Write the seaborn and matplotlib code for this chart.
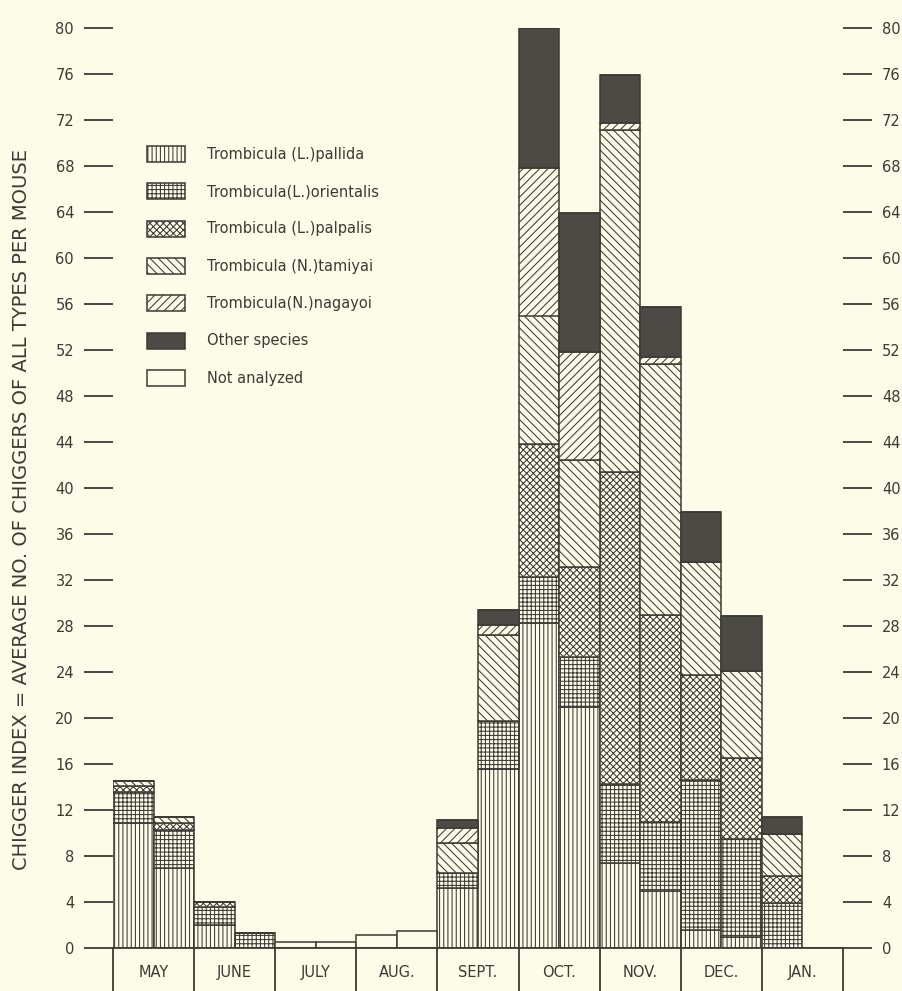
import numpy as np
import pandas as pd
import matplotlib
matplotlib.use("Agg")
import matplotlib.pyplot as plt
from matplotlib.patches import Patch
import seaborn as sns

# ---------------- data (half-month periods) ----------------
periods = ["May-1", "May-2", "Jun-1", "Jun-2", "Jul-1", "Jul-2", "Aug-1", "Aug-2",
           "Sep-1", "Sep-2", "Oct-1", "Oct-2", "Nov-1", "Nov-2", "Dec-1", "Dec-2",
           "Jan-1", "Jan-2"]
months = ["MAY", "JUNE", "JULY", "AUG.", "SEPT.", "OCT.", "NOV.", "DEC.", "JAN."]

pallida      = [10.9, 7.0, 2.0, 0.0, 0, 0, 0, 0, 5.2, 15.6, 28.3, 21.0, 7.4, 5.0, 1.6, 1.0, 0.0, 0]
orientalis   = [2.7, 3.3, 1.6, 1.3, 0, 0, 0, 0, 1.3, 4.1, 4.0, 4.3, 6.9, 6.0, 13.0, 8.5, 3.9, 0]
palpalis     = [0.5, 0.6, 0.4, 0.0, 0, 0, 0, 0, 0.0, 0.0, 11.5, 7.8, 27.1, 18.0, 9.1, 7.0, 2.4, 0]
tamiyai      = [0.45, 0.5, 0.0, 0.0, 0, 0, 0, 0, 2.6, 7.5, 11.2, 9.3, 29.7, 21.8, 9.9, 7.6, 3.6, 0]
nagayoi      = [0.0, 0.0, 0.0, 0.0, 0, 0, 0, 0, 1.3, 0.9, 12.8, 9.4, 0.6, 0.6, 0.0, 0.0, 0.0, 0]
other        = [0.0, 0.0, 0.0, 0.0, 0, 0, 0, 0, 0.7, 1.3, 12.2, 12.1, 4.2, 4.3, 4.3, 4.8, 1.5, 0]
not_analyzed = [0.0, 0.0, 0.0, 0.0, 0.55, 0.55, 1.13, 1.48, 0, 0, 0, 0, 0, 0, 0, 0, 0, 0]

series_names = ["Trombicula (L.)pallida", "Trombicula(L.)orientalis",
                "Trombicula (L.)palpalis", "Trombicula (N.)tamiyai",
                "Trombicula(N.)nagayoi", "Other species", "Not analyzed"]
yticks = list(range(0, 81, 4))

# ---------------- style ----------------
BG = "#FDFCE8"
INK = "#3b3a35"
DARK = "#4c4a45"

sns.set_style("ticks")
plt.rcParams["font.family"] = ["DejaVu Sans"]
plt.rcParams["hatch.linewidth"] = 0.75
plt.rcParams["hatch.color"] = INK
plt.rcParams["text.color"] = INK
plt.rcParams["axes.edgecolor"] = INK
plt.rcParams["xtick.color"] = INK
plt.rcParams["ytick.color"] = INK

layers = [
    (pallida, BG, "||||"),
    (orientalis, BG, "++++"),
    (palpalis, BG, "xxxxx"),
    (tamiyai, BG, "\\\\\\\\"),
    (nagayoi, BG, "////"),
    (other, DARK, None),
    (not_analyzed, BG, None),
]

fig = plt.figure(figsize=(9.02, 9.91), dpi=100, facecolor=BG)
ax = fig.add_axes([113 / 902, 43 / 991, 730 / 902, 920 / 991])
ax.set_facecolor(BG)

bottom = np.zeros(len(periods))
for vals, fc, hatch in layers:
    vals = np.asarray(vals, dtype=float)
    df = pd.DataFrame({"period": periods, "value": vals})
    kw = dict(edgecolor=INK, linewidth=1.1)
    if hatch:
        kw["hatch"] = hatch
    sns.barplot(data=df, x="period", y="value", order=periods, color=fc,
                saturation=1, width=1.0, errorbar=None, bottom=bottom,
                ax=ax, **kw)
    bottom = bottom + vals

ax.set_xlim(-0.5, len(periods) - 0.5)
ax.set_ylim(0, 80)
ax.set_xticks([])
ax.set_xlabel("")
ax.set_ylabel("")
ax.set_yticks(yticks)
ax.set_yticklabels([str(t) for t in yticks])
ax.tick_params(axis="y", left=True, right=True, labelleft=True, labelright=True,
               length=21, width=1.3, pad=7, labelsize=10.5, direction="out")
for s in ["left", "right", "top"]:
    ax.spines[s].set_visible(False)
ax.spines["bottom"].set_linewidth(1.3)

# month boxes below the baseline
depth = 43 / 11.5
bounds = np.arange(-0.5, len(periods) + 0.5, 2)
ax.vlines(bounds, -depth, 0, colors=INK, linewidth=1.3, clip_on=False)
for i, m in enumerate(months):
    ax.text(2 * i + 0.5, -2.1, m, ha="center", va="center", fontsize=10.5,
            clip_on=False)

# y label
fig.text(22 / 902, 1 - 510 / 991,
         "CHIGGER INDEX = AVERAGE NO. OF CHIGGERS OF ALL TYPES PER MOUSE",
         rotation=90, ha="center", va="center", fontsize=14)

# legend
handles = []
for (vals, fc, hatch), name in zip(layers, series_names):
    handles.append(Patch(facecolor=fc, edgecolor=INK, hatch=hatch, linewidth=1.1,
                         label=name))
leg = ax.legend(handles=handles, loc="upper left",
                bbox_to_anchor=(147 / 902, 1 - 146 / 991),
                bbox_transform=fig.transFigure, frameon=False, fontsize=10.5,
                handlelength=2.6, handleheight=1.3, handletextpad=1.5,
                labelspacing=1.47, borderpad=0, borderaxespad=0)

fig.savefig("out.png", dpi=100, facecolor=BG)
